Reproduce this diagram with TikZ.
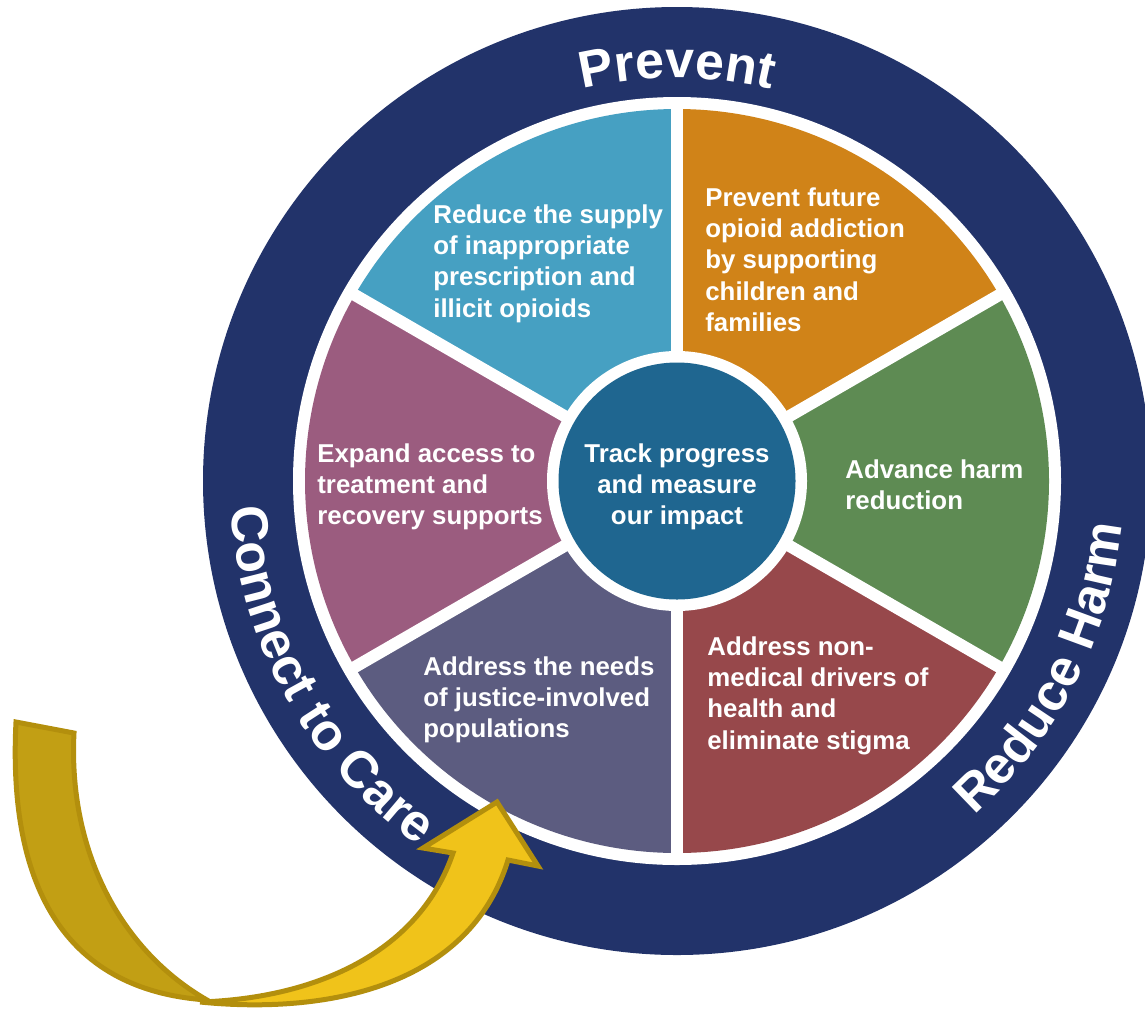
\documentclass[tikz,border=0pt]{standalone}
\usepackage{fontspec}
\setmainfont{Liberation Sans}
\usetikzlibrary{decorations.text}
\definecolor{ringnavy}{HTML}{22336A}
\definecolor{wblue}{HTML}{46A0C2}
\definecolor{worange}{HTML}{D08318}
\definecolor{wgreen}{HTML}{5E8B53}
\definecolor{wred}{HTML}{97484B}
\definecolor{wslate}{HTML}{5C5C80}
\definecolor{wmauve}{HTML}{9B5C7F}
\definecolor{hubblue}{HTML}{1F6690}
\definecolor{golddark}{HTML}{C29F14}
\definecolor{goldlight}{HTML}{F0C31A}
\definecolor{goldline}{HTML}{B38F0D}
\newcommand{\ringfnt}{\bfseries\fontsize{29.5}{32}\selectfont}
\begin{document}
\begin{tikzpicture}[x=0.02cm,y=0.02cm,
  wtext/.style={font=\bfseries\fontsize{14.7}{17.9}\selectfont, text=white, align=left, inner sep=0pt, anchor=north west},
  ringtext/.style={decorate, decoration={text along path, text={|\ringfnt|#1}, text align=center, text color=white}},
  arrowpart/.style={draw=goldline, line width=0.1cm, line join=miter}]
\useasboundingbox (0,0) rectangle (1145,-1011);
\coordinate (C) at (677,-481);
% outer ring
\fill[ringnavy] (C) circle[radius=474];
\fill[white] (C) circle[radius=384];
% wedges
\fill[worange] (C) -- ([shift={(30:372)}]C) arc[start angle=30,end angle=90,radius=372] -- cycle;
\fill[wblue] (C) -- ([shift={(90:372)}]C) arc[start angle=90,end angle=150,radius=372] -- cycle;
\fill[wmauve] (C) -- ([shift={(150:372)}]C) arc[start angle=150,end angle=210,radius=372] -- cycle;
\fill[wslate] (C) -- ([shift={(210:372)}]C) arc[start angle=210,end angle=270,radius=372] -- cycle;
\fill[wred] (C) -- ([shift={(270:372)}]C) arc[start angle=270,end angle=330,radius=372] -- cycle;
\fill[wgreen] (C) -- ([shift={(-30:372)}]C) arc[start angle=-30,end angle=30,radius=372] -- cycle;
\foreach \a in {30,90,150,210,270,330}
  \draw[white, line width=0.24cm] (C) -- ([shift={(\a:380)}]C);
% hub
\fill[white] (C) circle[radius=130];
\fill[hubblue] (C) circle[radius=118.5];
\node (hub) [font=\bfseries\fontsize{14.7}{17.9}\selectfont, text=white, align=center, inner sep=0pt, anchor=north] at (677,-443) {Track progress\\and measure\\our impact};
% wedge texts
\node (t1) [wtext] at (433,-204) {Reduce the supply\\of inappropriate\\prescription and\\illicit opioids};
\node (t2) [wtext] at (705,-187) {Prevent future\\opioid addiction\\by supporting\\children and\\families};
\node (t3) [wtext] at (845,-459) {Advance harm\\reduction};
\node (t4) [wtext] at (707,-636) {Address non-\\medical drivers of\\health and\\eliminate stigma};
\node (t5) [wtext] at (423,-656) {Address the needs\\of justice-involved\\populations};
\node (t6) [wtext] at (317,-443) {Expand access to\\treatment and\\recovery supports};
% curved ring labels
\coordinate (pstart) at ([shift={(130:403)}]C);
\path[ringtext={Prevent}] (pstart) arc[start angle=130,end angle=50,radius=403];
\coordinate (cstart) at ([shift={(169:447)}]C);
\path[ringtext={Connect to Care}] (cstart) arc[start angle=169,end angle=249,radius=447];
\coordinate (rstart) at ([shift={(-67:447)}]C);
\path[ringtext={Reduce Harm}] (rstart) arc[start angle=-67,end angle=13,radius=447];
% curved arrow: back (dark) half
\filldraw[arrowpart, fill=golddark]
  (16,-722) .. controls (8,-880) and (60,-990) .. (207,-1000)
  .. controls (120,-950) and (68,-850) .. (74,-733) -- cycle;
% front (light) half with head
\filldraw[arrowpart, fill=goldlight]
  (200,-1002) .. controls (330,-1015) and (470,-985) .. (508,-860)
  -- (538,-866) -- (497,-802) -- (423,-848) -- (453,-853)
  .. controls (420,-950) and (320,-998) .. (200,-1002) -- cycle;
\end{tikzpicture}
\end{document}
